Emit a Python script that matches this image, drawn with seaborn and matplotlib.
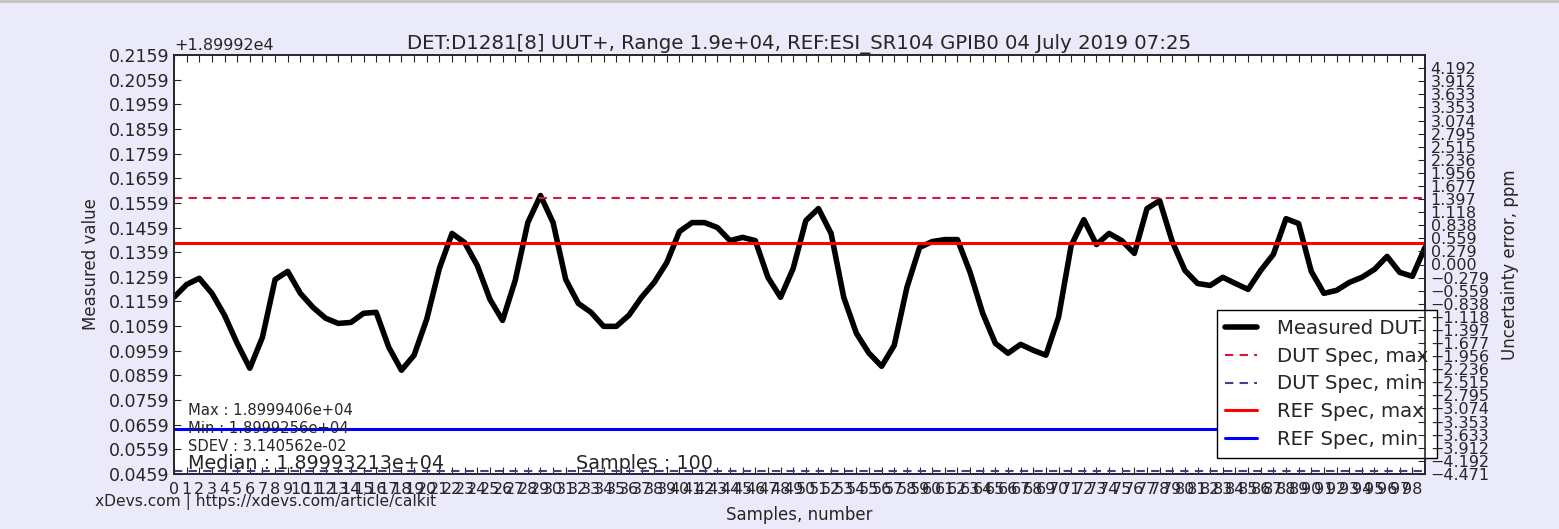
import numpy as np
import pandas as pd
import matplotlib
matplotlib.use("Agg")
import matplotlib.pyplot as plt
import seaborn as sns
from matplotlib.patches import Rectangle

# measured values, shown as offset from +1.89992e4
samples = list(range(100))
measured = [
    0.1176, 0.1228, 0.1253, 0.1192, 0.1103, 0.0989, 0.0888, 0.1014, 0.1248, 0.1281,
    0.1192, 0.1135, 0.1091, 0.1070, 0.1074, 0.1111, 0.1115, 0.0973, 0.0880, 0.0941,
    0.1087, 0.1293, 0.1435, 0.1398, 0.1305, 0.1168, 0.1082, 0.1244, 0.1479, 0.1589,
    0.1479, 0.1248, 0.1151, 0.1115, 0.1058, 0.1058, 0.1103, 0.1176, 0.1236, 0.1317,
    0.1443, 0.1479, 0.1479, 0.1459, 0.1406, 0.1419, 0.1406, 0.1257, 0.1176, 0.1293,
    0.1487, 0.1536, 0.1435, 0.1176, 0.1030, 0.0949, 0.0896, 0.0981, 0.1216, 0.1378,
    0.1402, 0.1410, 0.1410, 0.1277, 0.1111, 0.0989, 0.0949, 0.0985, 0.0961, 0.0941,
    0.1095, 0.1386, 0.1491, 0.1390, 0.1435, 0.1406, 0.1354, 0.1536, 0.1568, 0.1402,
    0.1285, 0.1232, 0.1224, 0.1257, 0.1232, 0.1208, 0.1285, 0.1350, 0.1495, 0.1475,
    0.1281, 0.1192, 0.1204, 0.1236, 0.1257, 0.1289, 0.1342, 0.1277, 0.1261, 0.1378,
]

dut_spec_max = 0.1578
dut_spec_min = 0.0470
ref_spec_max = 0.1397
ref_spec_min = 0.0642

y_ticks = [0.0459, 0.0559, 0.0659, 0.0759, 0.0859, 0.0959, 0.1059, 0.1159, 0.1259,
           0.1359, 0.1459, 0.1559, 0.1659, 0.1759, 0.1859, 0.1959, 0.2059, 0.2159]
ppm_ticks = [4.192, 3.912, 3.633, 3.353, 3.074, 2.795, 2.515, 2.236, 1.956, 1.677,
             1.397, 1.118, 0.838, 0.559, 0.279, 0.000, -0.279, -0.559, -0.838, -1.118,
             -1.397, -1.677, -1.956, -2.236, -2.515, -2.795, -3.074, -3.353, -3.633,
             -3.912, -4.192, -4.471]
ppm_limit = 4.474

stats_small = ["Max : 1.8999406e+04", "Min : 1.8999256e+04", "SDEV : 3.140562e-02"]
median_txt = "Median : 1.89993213e+04"
samples_txt = "Samples : 100"
title = "DET:D1281[8] UUT+, Range 1.9e+04, REF:ESI_SR104 GPIB0 04 July 2019 07:25"

df = pd.DataFrame({"sample": samples, "value": measured})

sns.set_style("ticks", {"xtick.direction": "in", "ytick.direction": "in"})
plt.rcParams["font.family"] = ["DejaVu Sans"]
plt.rcParams["axes.linewidth"] = 1.2

fig = plt.figure(figsize=(15.59, 5.29), dpi=100, facecolor="#eaeafa")
fig.add_artist(Rectangle((0, 1 - 3 / 529), 1, 3 / 529, transform=fig.transFigure,
                         color="#c4c4c4", lw=0))
ax = fig.add_axes([174 / 1559, 1 - 474 / 529, (1425 - 174) / 1559, (474 - 55) / 529])
ax.set_facecolor("white")

sns.lineplot(data=df, x="sample", y="value", ax=ax, color="black", lw=4.0,
             label="Measured DUT")
ax.axhline(dut_spec_max, color="crimson", ls="--", lw=1.5, dashes=(4, 3), label="DUT Spec, max")
ax.axhline(dut_spec_min, color="darkslateblue", ls="--", lw=1.5, dashes=(4, 3), label="DUT Spec, min")
ax.axhline(ref_spec_max, color="red", lw=2.2, label="REF Spec, max")
ax.axhline(ref_spec_min, color="blue", lw=2.2, label="REF Spec, min")

ax.set_xlim(0, 99)
ax.set_ylim(y_ticks[0], y_ticks[-1])
ax.set_xticks(range(99))
ax.set_xticklabels([str(i) for i in range(99)], fontsize=11.5)
ax.set_yticks(y_ticks)
ax.set_yticklabels([f"{t:.4f}" for t in y_ticks], fontsize=12.5)
ax.tick_params(axis="x", top=True, direction="in", length=5, pad=6)
ax.tick_params(axis="y", left=True, direction="in", length=5)
ax.set_xlabel("Samples, number", fontsize=12, labelpad=6)
ax.set_ylabel("Measured value", fontsize=12, labelpad=6)
ax.set_title(title, fontsize=14.2, pad=4)
ax.text(0, 1.004, "+1.89992e4", transform=ax.transAxes, fontsize=11.5, va="bottom")

for k, s in enumerate(stats_small):
    ax.text(0.011, 0.152 - k * 0.043, s, transform=ax.transAxes, fontsize=10.6, va="center")
ax.text(0.011, 0.026, median_txt, transform=ax.transAxes, fontsize=13.8, va="center")
ax.text(0.321, 0.026, samples_txt, transform=ax.transAxes, fontsize=13.8, va="center")

leg = ax.legend(loc="lower right", bbox_to_anchor=(1.0096, 0.038), borderaxespad=0,
                fontsize=14.2, frameon=True, fancybox=False, framealpha=1,
                edgecolor="black", handlelength=1.6, handletextpad=1.0,
                labelspacing=0.45, borderpad=0.45)
leg.get_frame().set_linewidth(1.0)

# right axis sits on top, like the original twin axis
ax2 = ax.twinx()
ax2.set_ylim(-ppm_limit, ppm_limit)
ax2.set_yticks(ppm_ticks)
ax2.set_yticklabels([f"{t:.3f}".replace("-", "\u2212") for t in ppm_ticks], fontsize=11.5)
ax2.tick_params(axis="y", direction="in", length=5, pad=4)
ax2.set_ylabel("Uncertainty error, ppm", fontsize=12, labelpad=8)
ax2.patch.set_visible(False)

fig.text(95 / 1559, 1 - 502 / 529, "xDevs.com | https://xdevs.com/article/calkit",
         fontsize=11.2, va="center")

fig.savefig("out.png", dpi=100, facecolor=fig.get_facecolor())
